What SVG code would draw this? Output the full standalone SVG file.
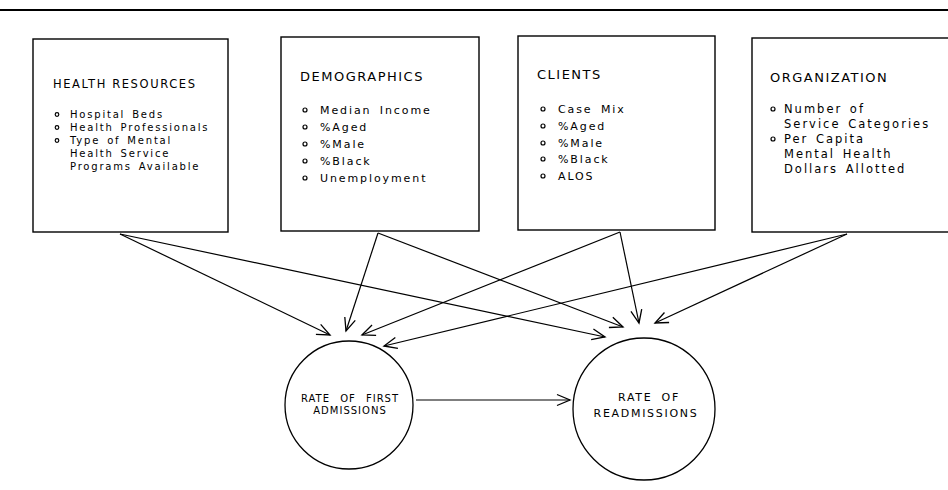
<svg xmlns="http://www.w3.org/2000/svg" width="948" height="490" viewBox="0 0 948 490">
<defs>
<marker id="ah" markerUnits="userSpaceOnUse" viewBox="-15 -8 17 16" refX="0" refY="0" markerWidth="17" markerHeight="16" orient="auto">
<path d="M-13,-5.5 L0,0 L-13,5.5" fill="none" stroke="#000" stroke-width="1.3"/>
</marker>
<style>
.box{fill:#fff;stroke:#000;stroke-width:1.4}
.circ{fill:#fff;stroke:#000;stroke-width:1.3}
.t{font-family:"DejaVu Sans","Liberation Sans",sans-serif;fill:#000}
.hd{font-size:13px;letter-spacing:1.5px}
.hd1{font-size:11.5px;letter-spacing:1.6px}
.it{font-size:11px;letter-spacing:1.9px;word-spacing:3px}
.it1{font-size:10px;letter-spacing:1.8px;word-spacing:2px}
.it4{font-size:11.5px;letter-spacing:2px;word-spacing:2px}
.ct{text-anchor:middle}
.bul{fill:none;stroke:#000;stroke-width:1.2}
.con{fill:none;stroke:#000;stroke-width:1.2;marker-end:url(#ah)}
</style>
</defs>
<rect width="948" height="490" fill="#fff"/>
<line x1="0" y1="10" x2="948" y2="10" stroke="#000" stroke-width="1.8"/>

<g id="health-resources">
<rect class="box" x="33" y="39" width="195" height="193"/>
<text class="t hd1" x="53" y="88">HEALTH RESOURCES</text>
<circle class="bul" cx="57" cy="114.5" r="1.8"/>
<circle class="bul" cx="57" cy="127.5" r="1.8"/>
<circle class="bul" cx="57" cy="140.5" r="1.8"/>
<text class="t it1" x="70" y="118">Hospital Beds</text>
<text class="t it1" x="70" y="131">Health Professionals</text>
<text class="t it1" x="70" y="144">Type of Mental</text>
<text class="t it1" x="70" y="157">Health Service</text>
<text class="t it1" x="70" y="170">Programs Available</text>
</g>

<g id="demographics">
<rect class="box" x="281" y="37" width="198" height="194"/>
<text class="t hd" x="300" y="81">DEMOGRAPHICS</text>
<circle class="bul" cx="305" cy="110" r="2"/>
<circle class="bul" cx="305" cy="127" r="2"/>
<circle class="bul" cx="305" cy="144" r="2"/>
<circle class="bul" cx="305" cy="161" r="2"/>
<circle class="bul" cx="305" cy="178" r="2"/>
<text class="t it" x="320" y="114">Median Income</text>
<text class="t it" x="320" y="131">%Aged</text>
<text class="t it" x="320" y="148">%Male</text>
<text class="t it" x="320" y="165">%Black</text>
<text class="t it" x="320" y="182">Unemployment</text>
</g>

<g id="clients">
<rect class="box" x="518" y="36" width="197" height="194"/>
<text class="t hd" x="537" y="79">CLIENTS</text>
<circle class="bul" cx="543" cy="109" r="2"/>
<circle class="bul" cx="543" cy="126" r="2"/>
<circle class="bul" cx="543" cy="143" r="2"/>
<circle class="bul" cx="543" cy="159" r="2"/>
<circle class="bul" cx="543" cy="176" r="2"/>
<text class="t it" x="558" y="113">Case Mix</text>
<text class="t it" x="558" y="130">%Aged</text>
<text class="t it" x="558" y="147">%Male</text>
<text class="t it" x="558" y="163">%Black</text>
<text class="t it" x="558" y="180">ALOS</text>
</g>

<g id="organization">
<rect class="box" x="752" y="38" width="210" height="194"/>
<text class="t hd" x="770" y="82">ORGANIZATION</text>
<circle class="bul" cx="773" cy="109" r="2"/>
<circle class="bul" cx="773" cy="139" r="2"/>
<text class="t it4" x="784" y="113">Number of</text>
<text class="t it4" x="784" y="128">Service Categories</text>
<text class="t it4" x="784" y="143">Per Capita</text>
<text class="t it4" x="784" y="158">Mental Health</text>
<text class="t it4" x="784" y="173">Dollars Allotted</text>
</g>

<g id="first-admissions">
<circle class="circ" cx="349" cy="405" r="64"/>
<text class="t ct" x="350" y="402" style="font-size:10px;letter-spacing:1px;word-spacing:6px">RATE OF FIRST</text>
<text class="t ct" x="350" y="414" style="font-size:10px;letter-spacing:1px">ADMISSIONS</text>
</g>

<g id="readmissions">
<circle class="circ" cx="644" cy="409" r="71"/>
<text class="t ct" x="649" y="401" style="font-size:11px;letter-spacing:1.7px;word-spacing:4px">RATE OF</text>
<text class="t ct" x="646" y="417" style="font-size:11px;letter-spacing:1.7px">READMISSIONS</text>
</g>

<g id="connectors">
<line class="con" x1="120" y1="234" x2="330" y2="335"/>
<line class="con" x1="120" y1="234" x2="605" y2="337"/>
<line class="con" x1="378" y1="233" x2="346" y2="331"/>
<line class="con" x1="378" y1="233" x2="623" y2="327"/>
<line class="con" x1="620" y1="232" x2="362" y2="335"/>
<line class="con" x1="620" y1="232" x2="639" y2="323"/>
<line class="con" x1="847" y1="234" x2="384" y2="346"/>
<line class="con" x1="847" y1="234" x2="655" y2="323"/>
<line class="con" x1="416" y1="400" x2="570" y2="400"/>
</g>
</svg>
